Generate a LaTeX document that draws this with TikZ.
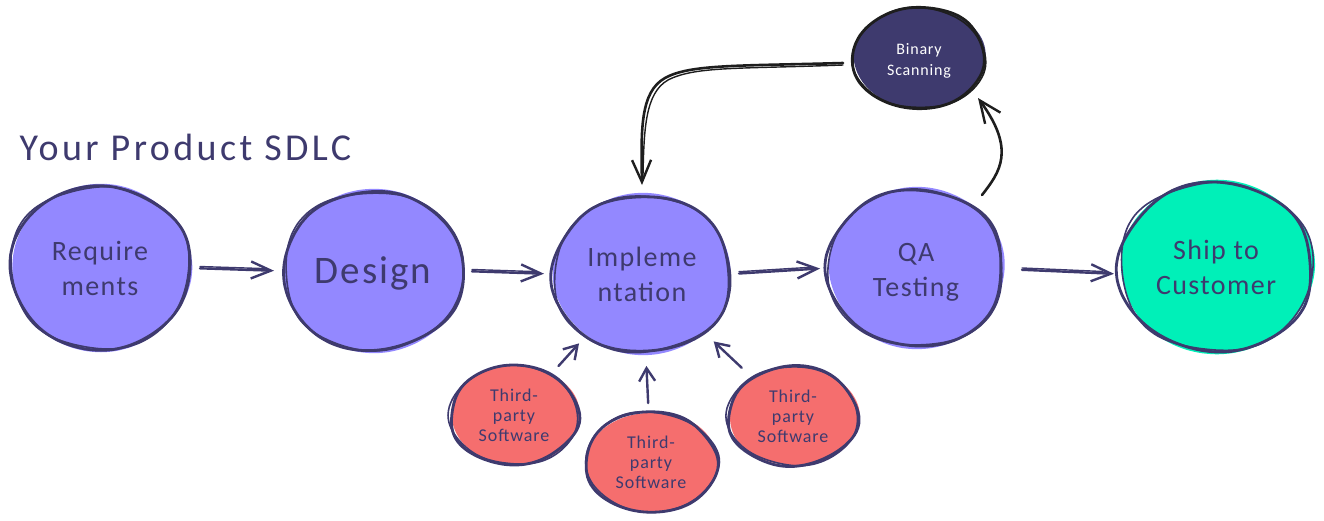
\documentclass[tikz,border=0pt]{standalone}
\usepackage{fontspec}
\setmainfont[LetterSpace=5]{Carlito}
\usetikzlibrary{arrows.meta,shapes.geometric}
\definecolor{ink}{HTML}{3E3A6E}
\definecolor{coal}{HTML}{1E1E1E}
\definecolor{violet}{HTML}{9388FF}
\definecolor{coral}{HTML}{F56E6E}
\definecolor{mint}{HTML}{00F0B8}
\tikzset{
  blob/.style={ellipse,inner sep=0pt,outer sep=0pt,align=center},
  bigtext/.style={text=ink,font=\fontsize{28}{35}\selectfont},
  smalltext/.style={text=ink,font=\fontsize{18}{20}\selectfont},
  whitetext/.style={text=white,font=\fontsize{16}{21}\selectfont},
  inkarrow/.style={draw=ink,line width=2.4pt,line cap=round,-{Straight Barb[length=20pt,width=17pt,line width=2.4pt]}},
  shortarrow/.style={draw=ink,line width=2.4pt,line cap=round,-{Straight Barb[length=13pt,width=16pt,line width=2.4pt]}},
  coalarrow/.style={draw=coal,line width=2.6pt,line cap=round,-{Straight Barb[length=22pt,width=19pt,line width=2.4pt]}},
  echo/.style={line width=1.4pt,line cap=round}
}
% name, cx, cy, rx, ry, fill, stroke, text style, text
\newcommand\blobnode[9]{%
  \fill[#6] plot[smooth cycle,samples=40,domain=0:351,variable=\t]
    ({#2+1+#4*(1+.015*sin(3*\t+#2))*cos(\t)},{#3+#5*(1+.015*sin(2*\t+#3))*sin(\t)});
  \draw[#7,line width=2.8pt,line join=round] plot[smooth cycle,samples=40,domain=0:351,variable=\t]
    ({#2+#4*(1+.022*sin(3*\t+#2*5)+.014*sin(5*\t+#3))*cos(\t)},{#3+#5*(1+.022*sin(2*\t+#3*3)+.014*sin(4*\t+#2))*sin(\t)});
  \draw[#7,line width=1.6pt,line join=round] plot[smooth cycle,samples=40,domain=0:351,variable=\t]
    ({#2+#4*(1+.024*sin(3*\t+#2*9)+.014*sin(4*\t+#3))*cos(\t)},{#3+#5*(1+.026*sin(2*\t+#3*7)+.014*sin(5*\t+#2))*sin(\t)});
  \node[blob,minimum width=2*#4 pt,minimum height=2*#5 pt,#8] (#1) at (#2,#3) {#9};
}
\begin{document}
\begin{tikzpicture}[x=1pt,y=-1pt]
\useasboundingbox (0,0) rectangle (1324,520);
\node[anchor=west,text=ink,font=\fontsize{38}{42}\selectfont\addfontfeature{LetterSpace=9}] (title) at (16,147) {Your Product SDLC};
\blobnode{req}{100}{268}{90}{83}{violet}{ink}{bigtext}{Require\\ments}
\blobnode{des}{373}{271}{90}{81}{violet}{ink}{text=ink,font=\fontsize{39}{44}\selectfont}{\rule{0pt}{32pt}Design}
\blobnode{imp}{642}{274}{89}{80}{violet}{ink}{bigtext}{Impleme\\ntation}
\blobnode{qa}{916}{268}{88}{80}{violet}{ink}{bigtext}{\rule{0pt}{27pt}QA\\Testing}
\blobnode{ship}{1216}{267}{97}{86}{mint}{ink}{bigtext}{Ship to\\Customer}
\blobnode{bin}{919}{58}{66}{51}{ink}{coal}{whitetext}{\rule{0pt}{17pt}Binary\\Scanning}
\blobnode{tpa}{514}{415}{64}{50}{coral}{ink}{smalltext}{Third-\\party\\Software}
\blobnode{tpb}{651}{462}{66}{50}{coral}{ink}{smalltext}{Third-\\party\\Software}
\blobnode{tpc}{793}{416}{65}{50}{coral}{ink}{smalltext}{Third-\\party\\Software}
% horizontal flow
\draw[inkarrow,shorten <=10pt,shorten >=9pt] (req.east) -- (des.west);
\draw[ink,echo,shorten <=10pt,shorten >=16pt,transform canvas={yshift=1.8pt}] (req.east) -- (des.west);
\draw[inkarrow,shorten <=9pt,shorten >=9pt] (des.east) -- (imp.west);
\draw[ink,echo,shorten <=9pt,shorten >=16pt,transform canvas={yshift=1.8pt}] (des.east) -- (imp.west);
\draw[inkarrow,shorten <=8pt,shorten >=8pt] (imp.east) -- (qa.west);
\draw[ink,echo,shorten <=8pt,shorten >=16pt,transform canvas={yshift=1.8pt}] (imp.east) -- (qa.west);
\draw[inkarrow,shorten <=18pt,shorten >=5pt] ([yshift=-1pt]qa.east) -- ([yshift=-7pt]ship.west);
\draw[ink,echo,shorten <=18pt,shorten >=16pt,transform canvas={yshift=1.8pt}] ([yshift=-1pt]qa.east) -- ([yshift=-7pt]ship.west);
% third-party feeds
\draw[shortarrow,shorten <=11pt,shorten >=10pt] (tpa) -- (imp);
\draw[shortarrow,shorten <=9pt,shorten >=12pt] (tpb) -- (imp);
\draw[shortarrow,shorten <=14pt,shorten >=14pt] (tpc) -- (imp);
% loop through binary scanning
\coordinate (qaout) at ([xshift=66pt,yshift=73pt]qa.center);
\coordinate (binin) at ([xshift=59pt,yshift=-40pt]bin.center);
\coordinate (binout) at ([xshift=-10pt,yshift=-5pt]bin.west);
\coordinate (impin) at ([yshift=9pt]imp.north);
\draw[coalarrow] (qaout) .. controls (1000,172) and (1016,150) .. (binin);
\draw[coalarrow] (binout) .. controls (740,66) and (690,64) .. (665,78) .. controls (640,92) and (641,130) .. (impin);
\draw[coal,echo] ([yshift=-2pt]binout) .. controls (740,69) and (695,66) .. (668,80) .. controls (645,93) and (644,130) .. ([xshift=1pt,yshift=10pt]impin);
\end{tikzpicture}
\end{document}
